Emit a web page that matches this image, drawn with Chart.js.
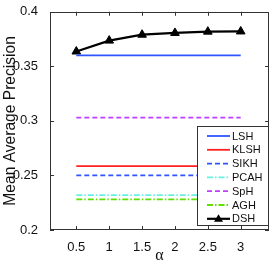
<!DOCTYPE html>
<html>
<head>
<meta charset="utf-8">
<script src="https://cdn.jsdelivr.net/npm/chart.js@4/dist/chart.umd.min.js"></script>
<style>
  html, body { margin: 0; padding: 0; background: #fff; }
  #wrap { width: 278px; height: 265px; }
</style>
</head>
<body>
<div id="wrap"><canvas id="myChart" width="278" height="265"></canvas></div>
<script>
// alpha values on the x axis
const alphas = [0.5, 1, 1.5, 2, 2.5, 3];
const xTicks = [0.5, 1, 1.5, 2, 2.5, 3];
const yTicks = [0.2, 0.25, 0.3, 0.35, 0.4];

// mean average precision per method
const lsh  = [0.360, 0.360, 0.360, 0.360, 0.360, 0.360];
const klsh = [0.2585, 0.2585, 0.2585, 0.2585, 0.2585, 0.2585];
const sikh = [0.250, 0.250, 0.250, 0.250, 0.250, 0.250];
const pcah = [0.232, 0.232, 0.232, 0.232, 0.232, 0.232];
const sph  = [0.303, 0.303, 0.303, 0.303, 0.303, 0.303];
const agh  = [0.228, 0.228, 0.228, 0.228, 0.228, 0.228];
const dsh  = [0.3636, 0.3736, 0.379, 0.3806, 0.3818, 0.382];

function pts(vals) {
  return alphas.map((a, i) => ({x: a, y: vals[i]}));
}

function mk(label, vals, color, dash, marker) {
  return {
    label: label,
    data: pts(vals),
    borderColor: color,
    backgroundColor: color,
    borderWidth: 1.8,
    borderDash: dash,
    pointStyle: marker ? 'triangle' : false,
    pointRadius: marker ? 5 : 0,
    pointBorderWidth: 1,
    tension: 0
  };
}

const datasets = [
  mk('LSH', lsh, '#2f55ff', []),
  mk('KLSH', klsh, '#ff2020', []),
  mk('SIKH', sikh, '#2f55ff', [5, 3]),
  mk('PCAH', pcah, '#66f0e0', [6, 2, 1.5, 2]),
  mk('SpH', sph, '#c040ff', [5, 3]),
  mk('AGH', agh, '#60e000', [6, 2, 1.5, 2]),
  mk('DSH', dsh, '#000000', [], true)
];
datasets[6].borderWidth = 2.2;

// box around the axes with inward ticks, MATLAB style
const framePlugin = {
  id: 'frame',
  afterDatasetsDraw(chart) {
    const ctx = chart.ctx, a = chart.chartArea;
    const xs = chart.scales.x, ys = chart.scales.y;
    ctx.save();
    ctx.strokeStyle = '#333';
    ctx.lineWidth = 1;
    ctx.strokeRect(Math.round(a.left) + 0.5, Math.round(a.top) + 0.5,
                   Math.round(a.right - a.left) - 1, Math.round(a.bottom - a.top) - 1);
    ctx.beginPath();
    xTicks.forEach(v => {
      const px = Math.round(xs.getPixelForValue(v)) + 0.5;
      ctx.moveTo(px, a.bottom); ctx.lineTo(px, a.bottom - 4);
      ctx.moveTo(px, a.top); ctx.lineTo(px, a.top + 4);
    });
    yTicks.forEach(v => {
      const py = Math.round(ys.getPixelForValue(v)) + 0.5;
      ctx.moveTo(a.left, py); ctx.lineTo(a.left + 4, py);
      ctx.moveTo(a.right, py); ctx.lineTo(a.right - 4, py);
    });
    ctx.stroke();
    ctx.restore();
  }
};

// legend drawn inside the plot, bottom right
const legendPlugin = {
  id: 'insideLegend',
  afterDraw(chart) {
    const ctx = chart.ctx, a = chart.chartArea;
    const w = 72, h = 100;
    const x0 = Math.round(a.right) - w, y0 = Math.round(a.bottom) - h - 4;
    ctx.save();
    ctx.fillStyle = '#fff';
    ctx.fillRect(x0, y0, w, h);
    ctx.strokeStyle = '#333';
    ctx.lineWidth = 1;
    ctx.strokeRect(x0 + 0.5, y0 + 0.5, w - 1, h - 1);
    ctx.font = '11px "Liberation Sans", Arial, sans-serif';
    ctx.textBaseline = 'middle';
    chart.data.datasets.forEach((ds, i) => {
      const y = y0 + 10 + i * 13.8;
      ctx.strokeStyle = ds.borderColor;
      ctx.lineWidth = ds.borderWidth;
      ctx.setLineDash(ds.borderDash || []);
      ctx.beginPath();
      ctx.moveTo(x0 + 10, y); ctx.lineTo(x0 + 33, y);
      ctx.stroke();
      ctx.setLineDash([]);
      if (ds.pointStyle === 'triangle') {
        ctx.fillStyle = ds.borderColor;
        ctx.beginPath();
        ctx.moveTo(x0 + 21.5, y - 4.5);
        ctx.lineTo(x0 + 26, y + 3);
        ctx.lineTo(x0 + 17, y + 3);
        ctx.closePath();
        ctx.fill();
      }
      ctx.fillStyle = '#111';
      ctx.fillText(ds.label, x0 + 35, y + 0.5);
    });
    ctx.restore();
  }
};

const config = {
  type: 'line',
  data: { datasets: datasets },
  options: {
    responsive: false,
    animation: false,
    layout: { padding: { top: 10, right: 9, left: 0, bottom: 0 } },
    plugins: { legend: { display: false }, tooltip: { enabled: false } },
    scales: {
      x: {
        type: 'linear',
        min: 0.1,
        max: 3.43,
        afterBuildTicks: s => { s.ticks = xTicks.map(v => ({value: v})); },
        afterFit: s => { s.height = 35; },
        grid: { display: false },
        border: { display: false },
        ticks: {
          color: '#111',
          font: { family: '"Liberation Sans", Arial, sans-serif', size: 13 },
          padding: 2,
          maxRotation: 0,
          callback: v => String(v)
        },
        title: {
          display: true,
          text: 'α',
          color: '#111',
          font: { family: '"Liberation Serif", "Times New Roman", serif', size: 16 },
          padding: { top: -3, bottom: 0 }
        }
      },
      y: {
        min: 0.2,
        max: 0.4,
        afterBuildTicks: s => { s.ticks = yTicks.map(v => ({value: v})); },
        afterFit: s => { s.width = 50; },
        grid: { display: false },
        border: { display: false },
        ticks: {
          color: '#111',
          font: { family: '"Liberation Sans", Arial, sans-serif', size: 13 },
          padding: 4,
          callback: v => String(Math.round(v * 100) / 100)
        },
        title: {
          display: true,
          text: 'Mean Average Precision',
          color: '#111',
          font: { family: '"Liberation Sans", Arial, sans-serif', size: 15.6 },
          padding: { top: 1, bottom: 0 }
        }
      }
    }
  },
  plugins: [framePlugin, legendPlugin]
};

const myChart = new Chart(document.getElementById('myChart'), config);
</script>
</body>
</html>
